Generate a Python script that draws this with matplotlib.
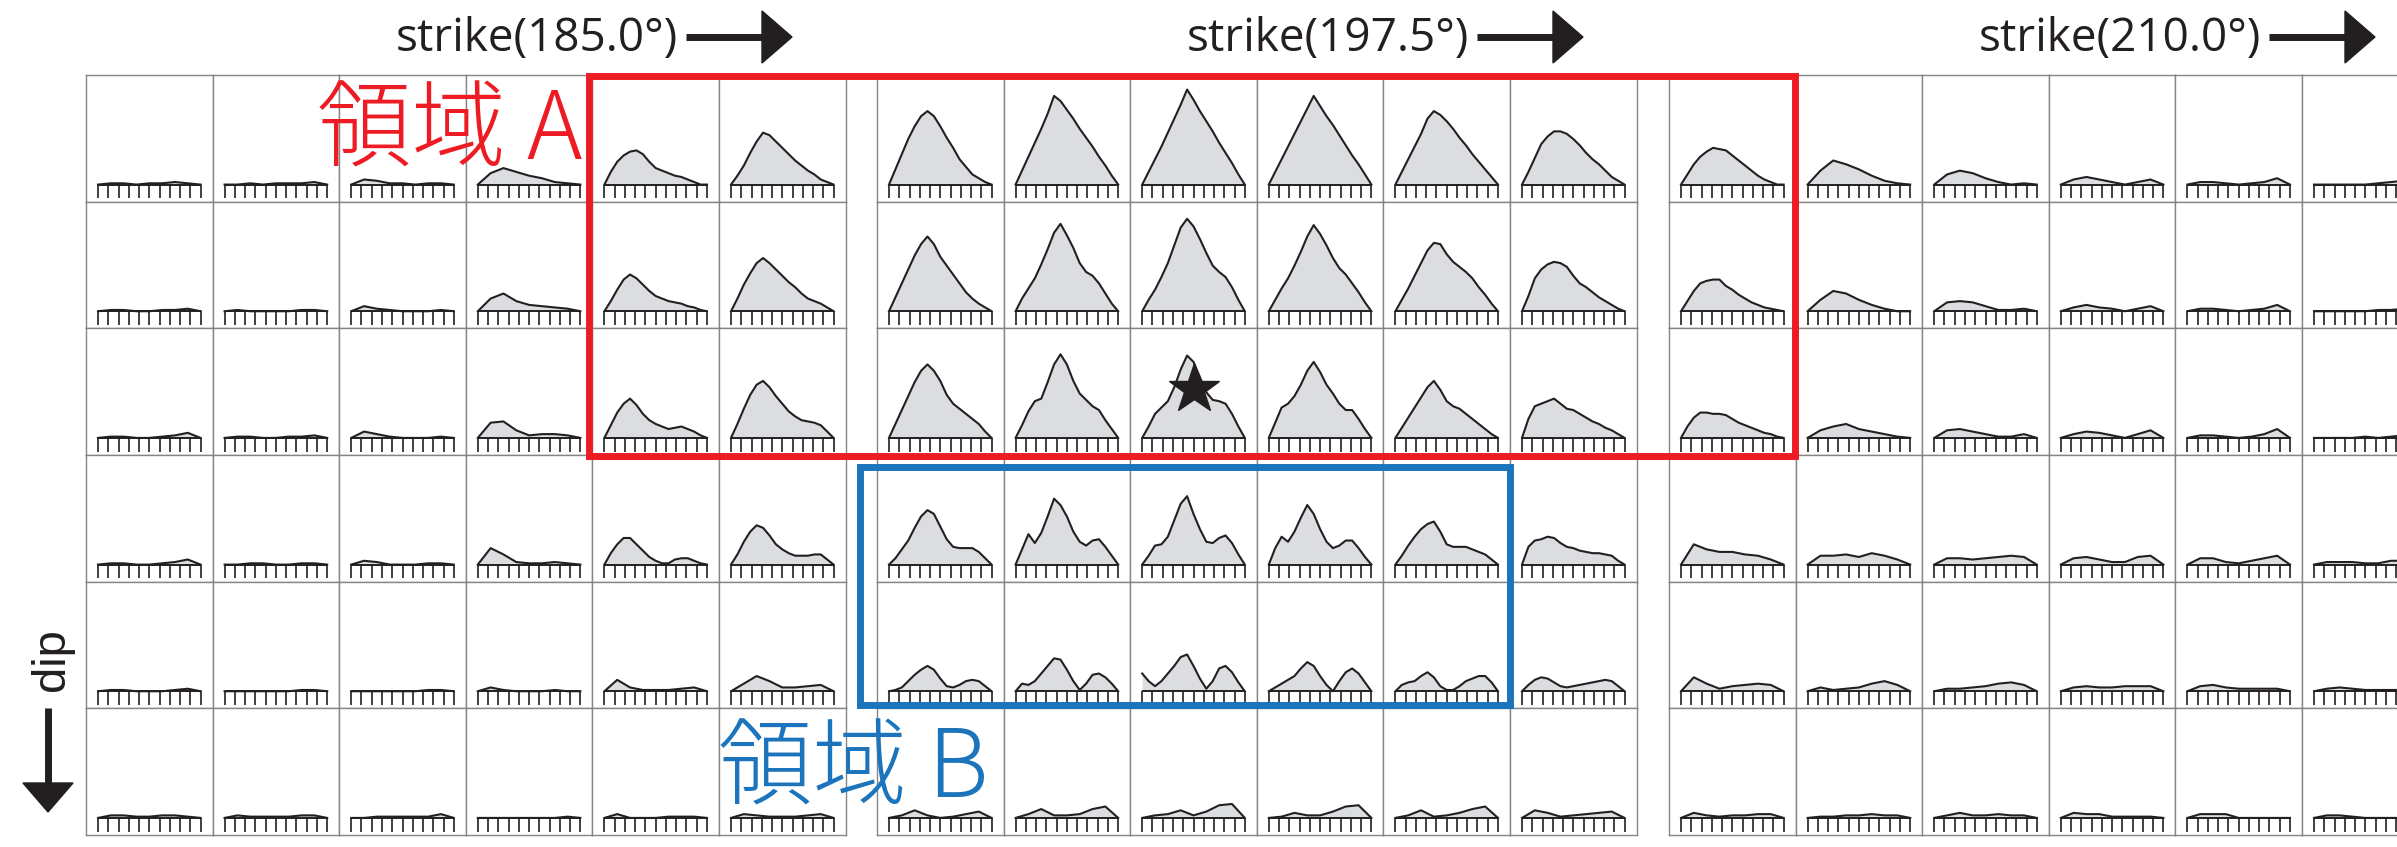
import matplotlib.pyplot as plt
import numpy as np
from matplotlib.patches import Rectangle, Polygon

plt.rcParams['font.family'] = ['Open Sans', 'DejaVu Sans']

strike_labels = ['strike(185.0°)', 'strike(197.5°)', 'strike(210.0°)']
dip_label = 'dip'
region_a_label = '領域 A'
region_b_label = '領域 B'

# trace amplitude in percent of the cell height, samples spread evenly
# along the trace; one list per dip row, 18 strike columns (3 groups of 6)
dip1 = [[0,1,1,0,1,1,2,1,0],
        [0,0,1,0,1,1,1,2,0],
        [0,4,3,1,1,0,1,1,0],
        [0,9,13,10,7,5,2,1,0],
        [0,10,18,23,26,27,24,18,13,11,9,7,6,4,2,0,0],
        [0,7,15,25,34,41,39,34,29,24,19,15,11,8,4,2,0],
        [0,12,24,36,46,54,58,54,46,37,29,20,14,8,5,2,0],
        [0,11,22,33,44,56,70,66,59,52,44,37,30,22,15,7,0],
        [0,10,20,30,41,52,63,75,67,58,50,42,33,25,17,8,0],
        [0,10,20,30,40,50,60,70,62,54,47,39,31,23,16,8,0],
        [0,10,20,30,40,52,58,55,50,44,37,31,24,18,12,6,0],
        [0,10,21,32,38,42,42,40,36,31,25,20,16,11,6,3,0],
        [0,8,16,22,26,29,28,27,23,19,15,11,7,4,2,0,0],
        [0,11,19,16,12,7,3,1,0],
        [0,8,11,9,5,2,0,1,0],
        [0,4,6,4,2,0,2,4,0],
        [0,2,2,1,0,1,2,5,0],
        [0,0,0,0,0,1,2,3,0]]

dip2 = [[0,1,1,0,0,1,1,2,0],
        [0,1,0,0,0,0,1,1,0],
        [0,4,2,1,0,0,0,1,0],
        [0,10,14,8,5,4,3,2,0],
        [0,8,17,25,29,26,21,16,12,10,8,7,6,4,3,1,0],
        [0,10,21,30,38,42,38,33,28,23,19,14,10,8,6,3,0],
        [0,11,22,33,44,53,59,53,43,36,29,22,15,10,6,3,0],
        [0,10,18,26,37,49,62,69,60,50,38,31,28,22,14,6,0],
        [0,9,17,27,38,52,66,73,67,57,46,36,31,27,19,9,0],
        [0,9,18,26,36,47,59,68,61,52,42,34,29,22,15,7,0],
        [0,9,18,28,38,48,54,53,45,39,35,31,26,19,13,6,0],
        [0,12,26,33,37,39,38,35,28,22,19,15,11,8,5,2,0],
        [0,8,16,22,24,25,25,20,17,13,10,7,5,3,2,1,0],
        [0,9,16,14,9,5,2,0,0],
        [0,7,8,7,4,1,1,2,0],
        [0,3,5,3,2,0,2,4,0],
        [0,2,2,1,0,1,2,5,0],
        [0,0,0,0,0,1,1,2,0]]

dip3 = [[0,1,1,0,0,1,2,4,0],
        [0,1,1,0,0,1,1,2,0],
        [0,5,3,1,0,0,0,1,0],
        [0,12,13,6,2,3,3,2,0],
        [0,10,20,27,31,26,19,14,11,9,7,8,9,7,5,2,0],
        [0,11,23,34,42,45,40,33,27,21,17,14,13,12,10,5,0],
        [0,11,22,33,44,53,58,53,45,34,27,23,19,15,11,5,0],
        [0,10,21,29,31,44,58,66,58,45,35,30,25,22,14,7,0],
        [0,9,19,24,29,40,54,65,60,48,36,30,29,27,19,9,0],
        [0,12,24,27,33,42,53,60,52,42,35,27,22,22,15,7,0],
        [0,8,16,24,32,40,45,38,29,25,23,19,15,11,7,3,0],
        [0,15,25,27,29,31,27,23,22,19,16,13,11,8,6,3,0],
        [0,9,16,20,20,19,19,18,15,12,10,8,6,4,3,1,0],
        [0,6,9,11,7,5,3,1,0],
        [0,6,7,5,3,1,1,3,0],
        [0,3,5,4,2,0,3,6,0],
        [0,2,2,1,0,1,3,7,0],
        [0,0,0,0,1,0,1,2,0]]

dip4 = [[0,1,1,0,0,1,2,4,0],
        [0,0,1,1,0,0,1,1,0],
        [0,3,2,0,0,0,1,1,0],
        [0,13,8,2,1,1,2,1,0],
        [0,9,16,21,21,16,11,6,3,1,1,4,5,5,3,1,0],
        [0,8,18,26,31,29,23,16,12,9,7,7,7,8,8,4,0],
        [0,5,12,19,29,38,43,40,30,20,14,13,13,13,10,5,0],
        [0,12,24,17,25,38,52,47,38,26,18,15,19,20,14,7,0],
        [0,7,15,16,22,35,48,54,40,28,18,17,21,23,17,8,0],
        [0,13,22,18,26,37,47,40,28,18,13,15,19,19,13,6,0],
        [0,7,15,22,28,32,34,26,16,14,14,14,12,10,8,4,0],
        [0,14,19,20,22,21,17,14,13,11,10,9,9,8,7,3,0],
        [0,16,12,10,10,8,7,4,0],
        [0,7,7,8,6,9,7,4,0],
        [0,5,5,4,5,6,7,6,0],
        [0,5,6,4,2,2,6,7,0],
        [0,5,5,2,1,3,5,7,0],
        [0,2,2,2,1,1,3,3,0]]

dip5 = [[0,1,1,0,0,0,1,2,0],
        [0,0,0,0,0,0,1,1,0],
        [0,0,0,0,0,0,1,1,0],
        [0,3,1,0,0,0,1,0,0],
        [0,9,3,1,1,1,2,3,0],
        [0,6,12,8,3,3,4,5,0],
        [0,1,3,8,13,17,20,17,10,4,3,5,8,9,8,4,0],
        [0,6,5,8,14,20,26,25,17,8,1,6,13,14,11,6,0],
        [14,8,4,8,14,20,27,29,20,10,2,8,18,20,15,7,0],
        [0,3,6,9,12,18,23,20,12,5,0,8,15,18,14,7,0],
        [0,5,7,8,12,15,11,4,1,1,4,8,10,12,12,7,0],
        [0,5,9,11,10,7,4,3,4,5,6,7,8,9,8,4,0],
        [0,11,6,2,4,5,6,5,0],
        [0,3,1,2,3,6,8,5,0],
        [0,2,2,3,4,6,7,5,0],
        [0,3,4,3,3,4,4,4,0],
        [0,4,5,3,2,2,2,2,0],
        [0,2,3,2,1,1,1,1,0]]

dip6 = [[0,2,2,1,1,2,2,1,0],
        [0,2,1,1,1,1,2,2,0],
        [0,0,1,1,1,1,1,3,0],
        [0,0,0,0,0,0,0,1,0],
        [0,3,0,0,0,1,1,1,0],
        [0,3,2,1,1,1,2,3,0],
        [0,2,6,2,0,1,3,5,0],
        [0,3,7,2,2,3,7,9,0],
        [0,2,3,6,2,5,10,11,0],
        [0,1,4,2,2,5,9,10,0],
        [0,2,6,1,2,4,7,9,0],
        [0,6,4,1,2,3,4,5,0],
        [0,4,2,1,2,2,3,3,0],
        [0,1,1,2,2,3,2,2,0],
        [0,2,4,2,2,3,2,2,0],
        [0,4,3,3,1,1,1,1,0],
        [0,3,3,3,0,0,0,0,0],
        [0,2,2,1,0,0,0,0,0]]

dip_rows = [dip1, dip2, dip3, dip4, dip5, dip6]

# highlighted blocks as (first row, last row, first col, last col)
region_a = (0, 2, 4, 12)
region_b = (3, 4, 6, 10)
star_cell = (2, 8)
star_height = 39

# ---- layout (pixels) ----
W, H = 2397, 847
CW, CH = 126.6, 126.67
group_x = [86, 877, 1669]
TOP = 75
INK = '#231f20'
RED = '#ed1c24'
BLUE = '#1c75bc'


def cell_box(r, c):
    return group_x[c // 6] + (c % 6) * CW, TOP + r * CH


fig = plt.figure(figsize=(W / 100, H / 100), dpi=100)
fig.patch.set_facecolor('white')

for r, row in enumerate(dip_rows):
    for c, vals in enumerate(row):
        x0, y0 = cell_box(r, c)
        ax = fig.add_axes([x0 / W, 1 - (y0 + CH) / H, CW / W, CH / H])
        ax.set_xlim(-0.117, 1.117)
        ax.set_ylim(-13.5, 86.5)
        ax.set_xticks([])
        ax.set_yticks([])
        for s in ax.spines.values():
            s.set_color('#858585')
            s.set_linewidth(1.0)
        t = np.linspace(0, 1, len(vals))
        ax.fill_between(t, vals, 0, color='#dcdde0', lw=0)
        ax.plot(t, vals, color=INK, lw=1.5, solid_joinstyle='round')
        # comb under each trace
        ax.hlines(0, 0, 1, color=INK, lw=1.4)
        ax.vlines(np.linspace(0, 1, 11), -10.8, 0, color=INK, lw=1.2)
        if (r, c) == star_cell:
            ax.plot(0.5, star_height, marker='*', ms=38, color=INK, zorder=5)

# overlay in pixel coordinates for boxes, labels and arrows
ov = fig.add_axes([0, 0, 1, 1])
ov.set_xlim(0, W)
ov.set_ylim(H, 0)
ov.axis('off')
ov.patch.set_alpha(0)
ov.set_zorder(10)


def region_rect(reg, color, pads):
    r0, r1, c0, c1 = reg
    xa, ya = cell_box(r0, c0)
    xb, yb = cell_box(r1, c1)
    xa += pads[0]
    ya += pads[1]
    xb += CW + pads[2]
    yb += CH + pads[3]
    ov.add_patch(Rectangle((xa, ya), xb - xa, yb - ya, fill=False,
                           ec=color, lw=5, joinstyle='miter'))


region_rect(region_a, RED, (-3, 1, -1, 1))
region_rect(region_b, BLUE, (-17, 12, 0, -3))

cjk = ['Noto Sans CJK JP', 'DejaVu Sans']
ov.text(582, 160, region_a_label, color=RED, fontsize=68, ha='right',
        va='baseline', family=cjk, fontweight='light')
ov.text(718, 798, region_b_label, color=BLUE, fontsize=68, ha='left',
        va='baseline', family=cjk, fontweight='light')

# strike headers with arrows
for gx, lab in zip(group_x, strike_labels):
    ov.text(gx + 310, 51, lab, color=INK, fontsize=33, ha='left',
            va='baseline')
    ov.plot([gx + 600, gx + 680], [37, 37], color=INK, lw=5,
            solid_capstyle='butt')
    ov.add_patch(Polygon([(gx + 676, 11), (gx + 706, 37), (gx + 676, 63)],
                         closed=True, color=INK))

# dip label with down arrow
ov.text(52, 660, dip_label, color=INK, fontsize=34, rotation=90,
        ha='center', va='center', family=['Liberation Sans', 'DejaVu Sans'])
ov.plot([48, 48], [708, 788], color=INK, lw=5, solid_capstyle='butt')
ov.add_patch(Polygon([(23, 783), (48, 812), (73, 783)], closed=True,
                     color=INK))

fig.savefig('out.png', dpi=100, facecolor='white')
